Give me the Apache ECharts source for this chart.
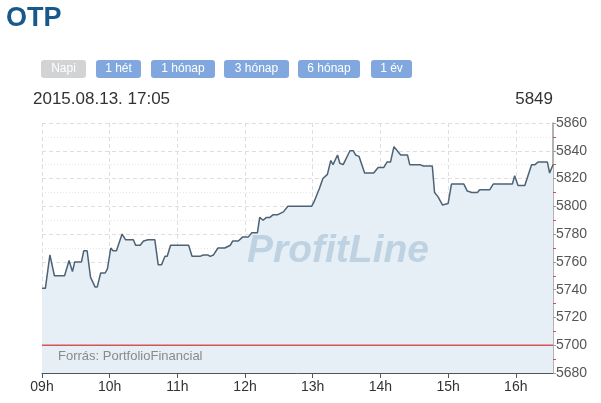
<!DOCTYPE html>
<html>
<head>
<meta charset="utf-8">
<script src="https://cdn.jsdelivr.net/npm/echarts@6/dist/echarts.min.js"></script>
<style>
html,body{margin:0;padding:0;background:#fff;}
#c{width:601px;height:403px;}
</style>
</head>
<body>
<div id="c"></div>
<script>
const title = 'OTP';
const buttonLabels = ['Napi', '1 hét', '1 hónap', '3 hónap', '6 hónap', '1 év'];
const dateText = '2015.08.13. 17:05';
const lastPrice = '5849';
const sourceText = 'Forrás: PortfolioFinancial';
const watermark = 'ProfitLine';
const prevClose = 5700;
const hourLabels = ['09h', '10h', '11h', '12h', '13h', '14h', '15h', '16h'];
const yTicks = [5680, 5700, 5720, 5740, 5760, 5780, 5800, 5820, 5840, 5860];
const sessionStart = '09:00';
const sessionEnd = '16:33';

const times = ['09:00','09:03','09:07','09:11','09:20','09:24','09:27','09:29','09:35','09:37',
  '09:40','09:43','09:47','09:49','09:52','09:56','09:58','10:01','10:03','10:06',
  '10:11','10:14','10:21','10:23','10:27','10:30','10:34','10:40','10:43','10:46',
  '10:49','10:51','10:54','11:10','11:13','11:20','11:23','11:27','11:29','11:32',
  '11:36','11:42','11:47','11:49','11:54','11:58','12:03','12:06','12:11','12:13',
  '12:16','12:19','12:22','12:25','12:29','12:34','12:38','12:44','12:59','13:01',
  '13:06','13:09','13:13','13:16','13:18','13:22','13:24','13:27','13:33','13:36',
  '13:38','13:41','13:46','13:54','13:58','14:03','14:06','14:09','14:12','14:16',
  '14:18','14:24','14:26','14:35','14:38','14:46','14:48','14:51','14:55','15:00',
  '15:03','15:14','15:17','15:21','15:26','15:28','15:37','15:40','15:57','15:59',
  '16:02','16:08','16:14','16:17','16:20','16:28','16:30','16:33'];
const prices = [5741,5741,5765,5750,5750,5761,5753,5760,5760,5768,
  5768,5749,5742,5742,5752,5752,5755,5770,5768,5768,
  5780,5776,5776,5772,5772,5775,5776,5776,5758,5758,
  5764,5764,5772,5772,5764,5764,5765,5765,5764,5765,
  5770,5770,5772,5775,5775,5778,5778,5781,5781,5792,
  5790,5792,5792,5794,5794,5796,5800,5800,5800,5803,
  5813,5820,5823,5833,5830,5837,5831,5830,5840,5840,
  5837,5836,5824,5824,5828,5828,5832,5832,5843,5839,
  5837,5837,5830,5830,5829,5829,5810,5807,5801,5802,
  5816,5816,5811,5810,5810,5812,5812,5816,5816,5822,
  5815,5815,5830,5830,5832,5832,5824,5830];

function toMin(t){ const p = t.split(':'); return (+p[0]) * 60 + (+p[1]); }
const t0 = toMin(sessionStart);
const tEnd = toMin(sessionEnd) - t0;
const data = times.map((t, i) => [toMin(t) - t0, prices[i]]);
const prevCloseLine = [[0, prevClose], [tEnd, prevClose]];
const hourValues = hourLabels.map((h, i) => i * 60);

const FONT = 'Liberation Sans, Arial, sans-serif';
const btnX = [41, 96, 151, 224, 298, 371];
const btnW = [45, 45, 64, 65, 62, 41];
const graphics = [
  { type: 'text', left: 6, top: 5, style: { text: title, font: 'bold 27px ' + FONT, fill: '#17598a' } },
  { type: 'text', left: 33, top: 91, style: { text: dateText, font: '17px ' + FONT, fill: '#333' } },
  { type: 'text', right: 48, top: 91, style: { text: lastPrice, font: '17px ' + FONT, fill: '#333', align: 'right' } },
  { type: 'text', left: 58, top: 350, z: 10, style: { text: sourceText, font: '13px ' + FONT, fill: '#8a8a8a' } },
  { type: 'text', x: 338, y: 251, z: 10, style: { text: watermark, font: 'italic bold 39px ' + FONT, fill: 'rgba(165,192,214,0.6)', align: 'center', verticalAlign: 'middle' } }
];
buttonLabels.forEach((b, i) => {
  graphics.push({
    type: 'rect', shape: { x: btnX[i], y: 60, width: btnW[i], height: 18, r: 3 },
    style: { fill: i === 0 ? '#d2d3d5' : '#80a8de' }
  });
  graphics.push({
    type: 'text', x: btnX[i] + btnW[i] / 2, y: 69,
    style: { text: b, font: '12px ' + FONT, fill: '#fff', align: 'center', verticalAlign: 'middle' }
  });
});

const chart = echarts.init(document.getElementById('c'), null, { renderer: 'canvas' });
chart.setOption({
  animation: false,
  backgroundColor: '#fff',
  textStyle: { fontFamily: FONT },
  grid: { left: 42, right: 48, top: 123, bottom: 30 },
  graphic: graphics,
  xAxis: {
    type: 'value', min: 0, max: tEnd, interval: 60,
    axisLine: { show: true, onZero: false, lineStyle: { color: '#555', width: 1 } },
    axisTick: { show: true, length: 5, lineStyle: { color: '#555' }, customValues: hourValues },
    axisLabel: { customValues: hourValues, formatter: v => hourLabels[Math.round(v / 60)] || '', fontSize: 14, color: '#333', margin: 7 },
    splitLine: { show: true, lineStyle: { type: [4, 3], color: '#dedede' } }
  },
  yAxis: {
    type: 'value', position: 'right', min: yTicks[0], max: yTicks[yTicks.length - 1], interval: 20,
    axisLine: { show: true, onZero: false, lineStyle: { color: '#999', width: 1.5 } },
    axisTick: { show: true, length: 3, lineStyle: { color: '#999' } },
    minorTick: { show: true, splitNumber: 2, length: 3, lineStyle: { color: '#d05050' } },
    axisLabel: { fontSize: 14, color: '#555', margin: 3, formatter: v => String(v) },
    splitLine: { show: true, lineStyle: { type: [4, 3], color: '#dedede' } },
    minorSplitLine: { show: true, lineStyle: { type: [1, 2], color: '#e6e6e6' } }
  },
  series: [{
    type: 'line', data: data, symbol: 'none', z: 5,
    lineStyle: { color: '#4d6274', width: 1.5 },
    areaStyle: { color: '#e6eef6', opacity: 1, origin: 'start' }
  }, {
    type: 'line', data: prevCloseLine, symbol: 'none', z: 6, silent: true,
    lineStyle: { color: '#d25555', width: 1.5 }
  }]
});
</script>
</body>
</html>
